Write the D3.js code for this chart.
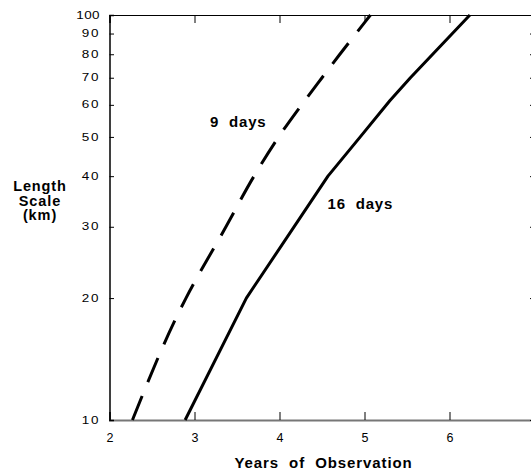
<!DOCTYPE html>
<html><head><meta charset="utf-8">
<script src="https://cdn.jsdelivr.net/npm/d3@7"></script>
<style>
body{margin:0;background:#fff;}
svg{display:block;font-family:Arial,"Liberation Sans",Helvetica,sans-serif;}
</style></head>
<body>
<svg id="c" width="531" height="473"></svg>
<script>
// data
const days9X  = [2.27, 2.90, 3.37, 3.70, 3.99, 4.26, 4.50, 4.71, 4.90, 5.07];
const days9Y  = [10, 20, 30, 40, 50, 60, 70, 80, 90, 100];
const days16X = [2.89, 3.61, 4.57, 4.95, 5.30, 5.54, 6.24];
const days16Y = [10, 20, 40, 50, 61.5, 70, 100];
const xMajor = [2, 3, 4, 5, 6, 7];
const yTicks = [10, 20, 30, 40, 50, 60, 70, 80, 90, 100];
const seriesLabels = ["9  days", "16  days"];

const svg = d3.select("#c");
const L = 109.5, R = 534.5, T = 15, B = 420;
const x = d3.scaleLinear().domain([2, 7]).range([L, R]);
const y = d3.scaleLog().domain([10, 100]).range([B, T]);

const xMinor = d3.range(2, 7.001, 0.2).map(v => +v.toFixed(1)).filter(v => !xMajor.includes(v));

// bottom axis
const gB = svg.append("g").attr("transform", `translate(0,${B})`);
gB.call(d3.axisBottom(x).tickValues(xMinor).tickSize(-4.5).tickFormat(""))
  .call(g => g.select(".domain").remove());
gB.call(d3.axisBottom(x).tickValues(xMajor).tickSize(-8).tickPadding(13).tickFormat(d3.format("d")))
  .call(g => g.select(".domain").attr("stroke", "#777").attr("stroke-width", 2))
  .call(g => g.selectAll("text").attr("font-size", 12.5).attr("fill", "#000").attr("font-family", null));
gB.selectAll(".tick line").attr("stroke", "#000");
gB.selectAll(".tick").filter(d => d === 7).select("text").remove();

// top axis
const gT = svg.append("g").attr("transform", `translate(0,${T})`);
gT.call(d3.axisTop(x).tickValues(xMinor).tickSize(-5).tickFormat(""))
  .call(g => g.select(".domain").remove());
gT.call(d3.axisTop(x).tickValues(xMajor).tickSize(-8).tickFormat(""))
  .call(g => g.select(".domain").attr("stroke", "#000").attr("stroke-width", 1.2));

// left axis
const gL = svg.append("g").attr("transform", `translate(${L},0)`);
gL.call(d3.axisLeft(y).tickValues(yTicks).tickSize(-4.5).tickFormat(""))
  .call(g => g.select(".domain").attr("stroke", "#000").attr("stroke-width", 1.5));

// right axis
const gR = svg.append("g").attr("transform", `translate(${R},0)`);
gR.call(d3.axisRight(y).tickValues(yTicks).tickSize(-4.5).tickFormat(""))
  .call(g => g.select(".domain").attr("stroke", "#000"));

// y tick labels (stretched, letter spaced)
svg.append("g").selectAll("text").data(yTicks).join("text")
  .attr("transform", d => `translate(100,${y(d)}) scale(1.35,1)`)
  .attr("text-anchor", "end")
  .attr("dy", "0.36em")
  .attr("font-size", 10)
  .attr("letter-spacing", d => d === 100 ? 0.3 : 1.2)
  .text(d => d);

// lines
const d9 = days9X.map((v, i) => [v, days9Y[i]]);
const d16 = days16X.map((v, i) => [v, days16Y[i]]);

svg.append("path").datum(d9)
  .attr("d", d3.line().x(d => x(d[0])).y(d => y(d[1])).curve(d3.curveMonotoneY)(d9))
  .attr("fill", "none").attr("stroke", "#000").attr("stroke-width", 3)
  .attr("stroke-dasharray", "26,15");

svg.append("path").datum(d16)
  .attr("d", d3.line().x(d => x(d[0])).y(d => y(d[1]))(d16))
  .attr("fill", "none").attr("stroke", "#000").attr("stroke-width", 3)
  .attr("stroke-linejoin", "round");

// series labels
const lab = (t, xx, yy) => svg.append("text").attr("x", xx).attr("y", yy)
  .attr("font-size", 15).attr("font-weight", "bold").attr("letter-spacing", 0.8)
  .attr("style", "white-space:pre").text(t);
lab(seriesLabels[0], 210, 127);
lab(seriesLabels[1], 327.5, 209);

// axis titles
svg.append("text").attr("x", 323.5).attr("y", 468).attr("text-anchor", "middle")
  .attr("font-size", 15).attr("font-weight", "bold").attr("letter-spacing", 0.9)
  .attr("style", "white-space:pre")
  .text("Years  of  Observation");

const yt = svg.append("text").attr("text-anchor", "middle").attr("font-size", 14.5)
  .attr("font-weight", "bold").attr("letter-spacing", 0.9);
[["Length", 191], ["Scale", 205.5], ["(km)", 220]].forEach(([t, yy]) =>
  yt.append("tspan").attr("x", 40).attr("y", yy).text(t));
</script>
</body></html>
